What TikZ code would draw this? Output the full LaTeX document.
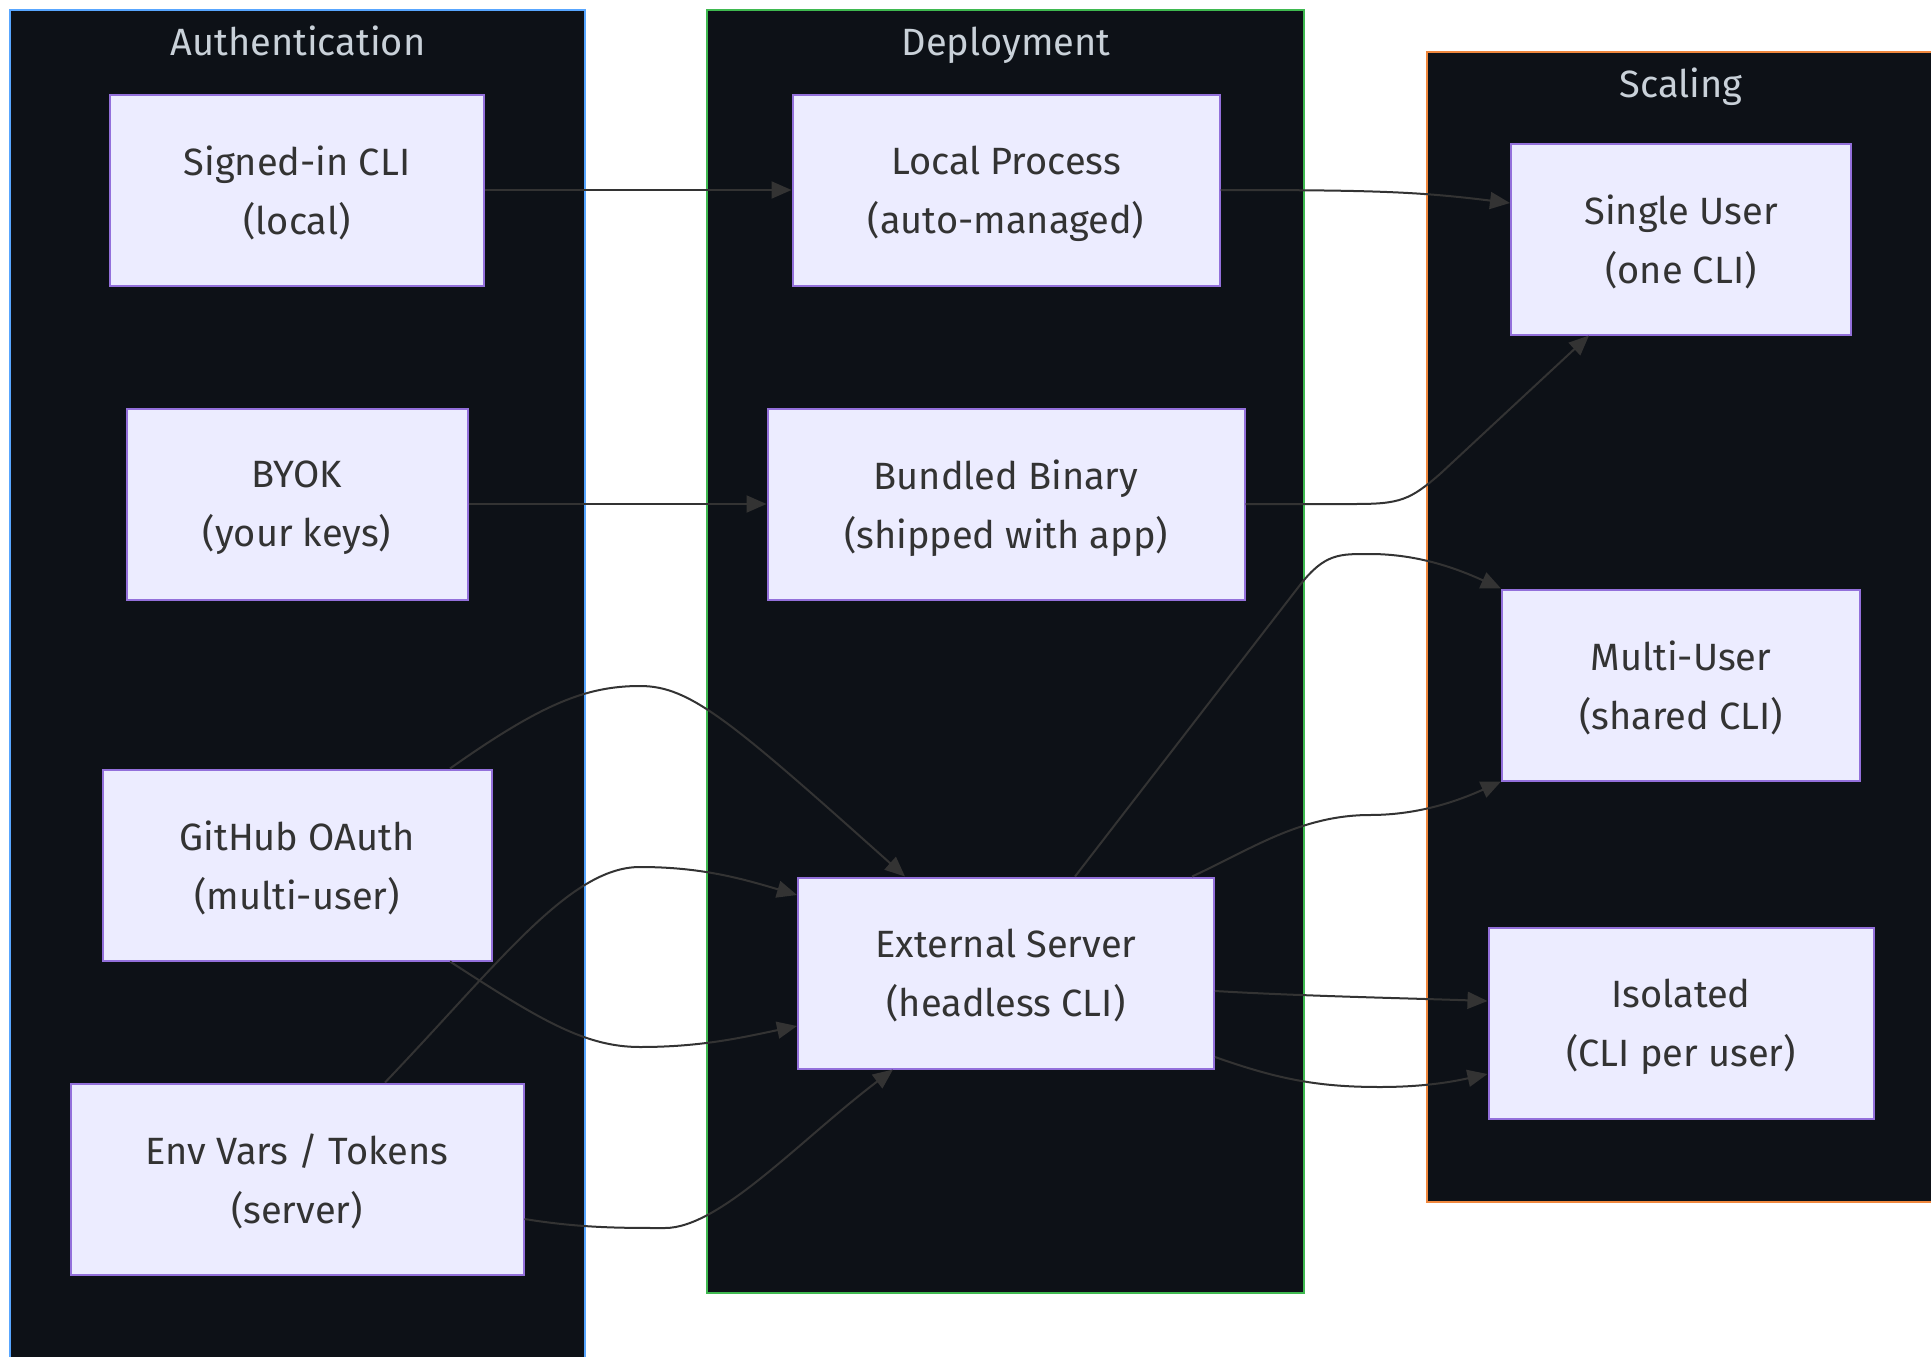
\documentclass[tikz,border=0pt]{standalone}
\usepackage{fontspec}
\setmainfont{Fira Sans}
\usetikzlibrary{arrows.meta}

\definecolor{clusterbg}{HTML}{0D1117}
\definecolor{nodebg}{HTML}{ECECFF}
\definecolor{nodeline}{HTML}{9370DB}
\definecolor{edgecol}{HTML}{333333}
\definecolor{authline}{HTML}{58A6FF}
\definecolor{deployline}{HTML}{3FB950}
\definecolor{scaleline}{HTML}{F0883E}
\definecolor{titlecol}{HTML}{C9D1D9}

\tikzset{
  box/.style={draw=nodeline, fill=nodebg, line width=2pt, text=edgecol, align=center,
    minimum height=191pt, inner sep=0pt, text depth=0pt, font=\fontsize{38}{59}\selectfont},
  cluster/.style={fill=clusterbg, line width=2pt},
  cltitle/.style={text=titlecol, anchor=base, font=\fontsize{38}{44}\selectfont},
  flow/.style={draw=edgecol, line width=2pt, -{Triangle[length=20pt,width=17pt]}},
}

\begin{document}
\begin{tikzpicture}[x=1pt, y=-1pt]
        \useasboundingbox (0,0) rectangle (1931,1357);
        \clip (0,0) rectangle (1931,1357);
        \fill[white] (0,0) rectangle (1931,1357);

        % subgraphs
        \draw[cluster, draw=authline] (10,10) rectangle (585,1390);
        \draw[cluster, draw=deployline] (707,10) rectangle (1304,1293);
        \draw[cluster, draw=scaleline] (1427,52) rectangle (1970,1202);
        \node[cltitle] (authT) at (298,55) {Authentication};
        \node[cltitle] (deployT) at (1006,55) {Deployment};
        \node[cltitle] (scaleT) at (1681,97) {Scaling};

        \node[box, minimum width=374pt] (signed) at (297,190) {Signed-in CLI\\(local)};
        \node[box, minimum width=341pt] (byok) at (297,504) {BYOK\\(your keys)};
        \node[box, minimum width=389pt] (oauth) at (297,865) {GitHub OAuth\\(multi-user)};
        \node[box, minimum width=453pt] (env) at (297,1179) {Env Vars / Tokens\\(server)};

        \node[box, minimum width=427pt] (local) at (1006,190) {Local Process\\(auto-managed)};
        \node[box, minimum width=477pt] (bundled) at (1006,504) {Bundled Binary\\(shipped with app)};
        \node[box, minimum width=416pt] (ext) at (1006,973) {External Server\\(headless CLI)};

        \node[box, minimum width=340pt] (single) at (1681,239) {Single User\\(one CLI)};
        \node[box, minimum width=358pt] (multi) at (1681,685) {Multi-User\\(shared CLI)};
        \node[box, minimum width=385pt] (iso) at (1681,1023) {Isolated\\(CLI per user)};

        % auth -> deployment
        \draw[flow] (signed) -- (local);
        \draw[flow] (byok) -- (bundled);
        \draw[flow] ([xshift=153pt]oauth.north) .. controls (540,705) and (585,686) .. (640,686)
            .. controls (690,686) and (730,720) .. ([xshift=-101pt]ext.north);
        \draw[flow] ([xshift=153pt]oauth.south) .. controls (540,1020) and (585,1047) .. (640,1047)
            .. controls (700,1047) and (740,1038) .. ([yshift=-53pt]ext.west);
        \draw[flow] ([xshift=88pt]env.north) .. controls (500,962) and (570,867) .. (640,867)
            .. controls (700,867) and (740,878) .. ([yshift=78pt]ext.west);
        \draw[flow] ([yshift=-40pt]env.east) .. controls (580,1228) and (620,1228) .. (665,1228)
            .. controls (720,1228) and (800,1140) .. ([xshift=-113pt]ext.south);

        % deployment -> scaling
        \draw[flow] (local.east) .. controls (1380,190) and (1420,192) .. ([yshift=36pt]single.west);
        \draw[flow] (bundled.east) -- (1355,504) .. controls (1400,504) and (1410,500) .. (1440,474)
            -- ([xshift=-92pt]single.south);
        \draw[flow] ([xshift=69pt]ext.north) -- (1300,585) .. controls (1325,553) and (1340,554) .. (1370,554)
            .. controls (1420,554) and (1460,570) .. (multi.north west);
        \draw[flow] ([xshift=186pt]ext.north) .. controls (1250,850) and (1300,815) .. (1370,815)
            .. controls (1420,815) and (1460,800) .. (multi.south west);
        \draw[flow] ([yshift=-18pt]ext.east) .. controls (1300,996) and (1400,998) .. ([yshift=22pt]iso.west);
        \draw[flow] ([yshift=-84pt]ext.east) .. controls (1280,1080) and (1320,1087) .. (1380,1087)
            .. controls (1430,1087) and (1460,1080) .. ([yshift=-51pt]iso.west);
\end{tikzpicture}
\end{document}
